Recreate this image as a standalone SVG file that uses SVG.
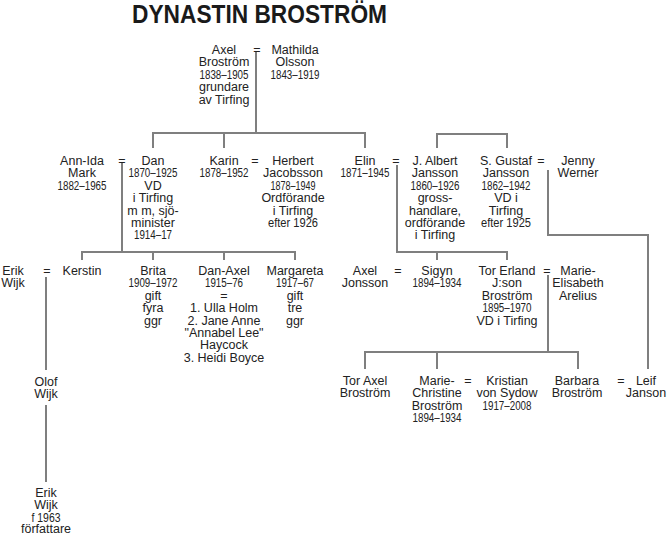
<svg xmlns="http://www.w3.org/2000/svg" width="667" height="535" viewBox="0 0 667 535">
<style>
text{font-family:"Liberation Sans",Arial,sans-serif;font-size:12.5px;fill:#222;text-anchor:middle}
.title{font-size:25px;font-weight:bold;fill:#1a1a1a}
.ln{fill:none;stroke:#7f7f7f;stroke-width:2}
</style>
<rect width="667" height="535" fill="#fff"/>
<text class="title" x="259.5" y="23" textLength="255" lengthAdjust="spacingAndGlyphs">DYNASTIN BROSTRÖM</text>
<g id="connectors" class="ln">
<path d="M256,52V133"/>
<path d="M153,148V133H365V148M224,133V148"/>
<path d="M437,148V134H507V148"/>
<path d="M122,163V252M82,260V252H295V260M153,252V260M224,252V260"/>
<path d="M397,165V252H507V260M437,252V260"/>
<path d="M548,170V235H648V369"/>
<path d="M46,277V370M46,405V482"/>
<path d="M548,275V352M365,369V352H578V369M437,352V369"/>
</g>
<g id="axel"><text x="224" y="54">Axel</text><text x="224" y="66.4">Broström</text><text x="224" y="78.8" textLength="49" lengthAdjust="spacingAndGlyphs">1838–1905</text><text x="224" y="91.2">grundare</text><text x="224" y="103.6">av Tirfing</text></g>
<text x="257" y="54">=</text>
<g id="mathilda"><text x="295" y="54">Mathilda</text><text x="295" y="66.4">Olsson</text><text x="295" y="78.8" textLength="49" lengthAdjust="spacingAndGlyphs">1843–1919</text></g>
<g id="annida"><text x="82" y="165">Ann-Ida</text><text x="82" y="177.4">Mark</text><text x="82" y="189.8" textLength="49" lengthAdjust="spacingAndGlyphs">1882–1965</text></g>
<text x="122" y="165">=</text>
<g id="dan"><text x="153" y="165">Dan</text><text x="153" y="177.4" textLength="49" lengthAdjust="spacingAndGlyphs">1870–1925</text><text x="153" y="189.8">VD</text><text x="153" y="202.2">i Tirfing</text><text x="153" y="214.6">m m, sjö-</text><text x="153" y="227">minister</text><text x="153" y="239.4" textLength="38" lengthAdjust="spacingAndGlyphs">1914–17</text></g>
<g id="karin"><text x="224" y="165">Karin</text><text x="224" y="177.4" textLength="49" lengthAdjust="spacingAndGlyphs">1878–1952</text></g>
<text x="255" y="165">=</text>
<g id="herbert"><text x="293" y="165">Herbert</text><text x="293" y="177.4">Jacobsson</text><text x="293" y="189.8" textLength="45" lengthAdjust="spacingAndGlyphs">1878–1949</text><text x="293" y="202.2">Ordförande</text><text x="293" y="214.6">i Tirfing</text><text x="293" y="227" textLength="50" lengthAdjust="spacingAndGlyphs">efter 1926</text></g>
<g id="elin"><text x="365" y="165">Elin</text><text x="365" y="177.4" textLength="49" lengthAdjust="spacingAndGlyphs">1871–1945</text></g>
<text x="396" y="165">=</text>
<g id="jalbert"><text x="435" y="165">J. Albert</text><text x="435" y="177.4">Jansson</text><text x="435" y="189.8" textLength="49" lengthAdjust="spacingAndGlyphs">1860–1926</text><text x="435" y="202.2">gross-</text><text x="435" y="214.6">handlare,</text><text x="435" y="227">ordförande</text><text x="435" y="239.4">i Tirfing</text></g>
<g id="sgustaf"><text x="506" y="165">S. Gustaf</text><text x="506" y="177.4">Jansson</text><text x="506" y="189.8" textLength="49" lengthAdjust="spacingAndGlyphs">1862–1942</text><text x="506" y="202.2">VD i</text><text x="506" y="214.6">Tirfing</text><text x="506" y="227" textLength="50" lengthAdjust="spacingAndGlyphs">efter 1925</text></g>
<text x="541" y="165">=</text>
<g id="jenny"><text x="578" y="165">Jenny</text><text x="578" y="177.4">Werner</text></g>
<g id="erikwijk1"><text x="13" y="275">Erik</text><text x="13" y="287.4">Wijk</text></g>
<text x="47" y="275">=</text>
<g id="kerstin"><text x="82" y="275">Kerstin</text></g>
<g id="brita"><text x="153" y="275">Brita</text><text x="153" y="287.4" textLength="49" lengthAdjust="spacingAndGlyphs">1909–1972</text><text x="153" y="299.8">gift</text><text x="153" y="312.2">fyra</text><text x="153" y="324.6">ggr</text></g>
<g id="danaxel"><text x="224" y="275">Dan-Axel</text><text x="224" y="287.4" textLength="38" lengthAdjust="spacingAndGlyphs">1915–76</text><text x="224" y="299.8">=</text><text x="224" y="312.2">1. Ulla Holm</text><text x="224" y="324.6">2. Jane Anne</text><text x="224" y="337">"Annabel Lee"</text><text x="224" y="349.4">Haycock</text><text x="224" y="361.8">3. Heidi Boyce</text></g>
<g id="margareta"><text x="295" y="275">Margareta</text><text x="295" y="287.4" textLength="38" lengthAdjust="spacingAndGlyphs">1917–67</text><text x="295" y="299.8">gift</text><text x="295" y="312.2">tre</text><text x="295" y="324.6">ggr</text></g>
<g id="axeljonsson"><text x="365" y="275">Axel</text><text x="365" y="287.4">Jonsson</text></g>
<text x="398" y="275">=</text>
<g id="sigyn"><text x="437" y="275">Sigyn</text><text x="437" y="287.4" textLength="49" lengthAdjust="spacingAndGlyphs">1894–1934</text></g>
<g id="torerland"><text x="507" y="275">Tor Erland</text><text x="507" y="287.4">J:son</text><text x="507" y="299.8">Broström</text><text x="507" y="312.2" textLength="49" lengthAdjust="spacingAndGlyphs">1895–1970</text><text x="507" y="324.6">VD i Tirfing</text></g>
<text x="547" y="275">=</text>
<g id="marieelisabeth"><text x="578" y="275">Marie-</text><text x="578" y="287.4">Elisabeth</text><text x="578" y="299.8">Arelius</text></g>
<g id="olof"><text x="46" y="386">Olof</text><text x="46" y="398.4">Wijk</text></g>
<g id="toraxel"><text x="365" y="385">Tor Axel</text><text x="365" y="397.4">Broström</text></g>
<g id="mariechristine"><text x="437" y="385">Marie-</text><text x="437" y="397.4">Christine</text><text x="437" y="409.8">Broström</text><text x="437" y="422.2" textLength="49" lengthAdjust="spacingAndGlyphs">1894–1934</text></g>
<text x="468" y="385">=</text>
<g id="kristian"><text x="507" y="385">Kristian</text><text x="507" y="397.4">von Sydow</text><text x="507" y="409.8" textLength="49" lengthAdjust="spacingAndGlyphs">1917–2008</text></g>
<g id="barbara"><text x="577" y="385">Barbara</text><text x="577" y="397.4">Broström</text></g>
<text x="621" y="385">=</text>
<g id="leif"><text x="646" y="385">Leif</text><text x="646" y="397.4">Janson</text></g>
<g id="erikwijk2"><text x="46" y="497">Erik</text><text x="46" y="509.4">Wijk</text><text x="46" y="521.8" textLength="29" lengthAdjust="spacingAndGlyphs">f 1963</text><text x="46" y="533">författare</text></g>
</svg>
